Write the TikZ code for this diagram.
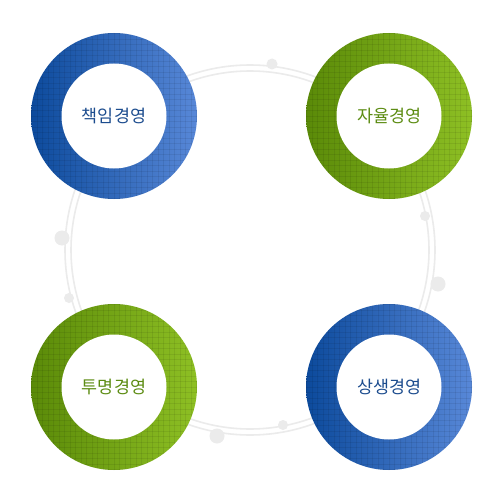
\documentclass[tikz,border=0pt]{standalone}
\usepackage{fontspec}
\newfontfamily\kr{Noto Sans CJK KR}
\definecolor{bluedark}{HTML}{0C4A9C}
\definecolor{bluelight}{HTML}{5888D8}
\definecolor{greendark}{HTML}{5A8A08}
\definecolor{greenlight}{HTML}{8EC024}
\definecolor{bluetext}{HTML}{1C4C8E}
\definecolor{greentext}{HTML}{5C8C12}
\definecolor{track}{HTML}{EBEBEB}
\begin{document}
\begin{tikzpicture}[x=0.02cm,y=-0.02cm,
  tracks/.style={draw=track,line width=0.9pt},
  dot/.style={fill=track},
  label/.style={font=\kr\fontsize{9.9pt}{12pt}\selectfont,inner sep=0pt},
  texture/.style={draw=black,draw opacity=0.07,line width=0.3pt}]
\useasboundingbox (0,0) rectangle (500,500);
\fill[white] (0,0) rectangle (500,500);
% background tracks
\coordinate (c) at (250,250);
\draw[tracks] (c) circle (185);
\draw[tracks] (c) circle (179);
\fill[dot] (272,64) circle (5.5);
\fill[dot] (62,238) circle (7.5);
\fill[dot] (69,298) circle (5);
\fill[dot] (425,216) circle (5);
\fill[dot] (438,284) circle (7.5);
\fill[dot] (217,436) circle (7.5);
\fill[dot] (283,425) circle (5);
% rings
\foreach \n/\px/\py/\lc/\rc/\tc/\txt in {
  a/114/116/bluedark/bluelight/bluetext/책임경영,
  b/389/116/greendark/greenlight/greentext/자율경영,
  c2/114/387/greendark/greenlight/greentext/투명경영,
  d/389/387/bluedark/bluelight/bluetext/상생경영}{
  \shade[left color=\lc,right color=\rc] (\px,\py) circle (83);
  \begin{scope}
    \clip (\px,\py) circle (83);
    \foreach \k in {-16,...,16}{
      \draw[texture] (\px+\k*5.5,\py-90) -- (\px+\k*5.5,\py+90);
      \draw[texture] (\px-90,\py+\k*5.5) -- (\px+90,\py+\k*5.5);
    }
  \end{scope}
  \fill[white] (\px,\py) circle (52.5);
  \node[label,text=\tc] (\n) at (\px,\py) {\txt};
}
\end{tikzpicture}
\end{document}
